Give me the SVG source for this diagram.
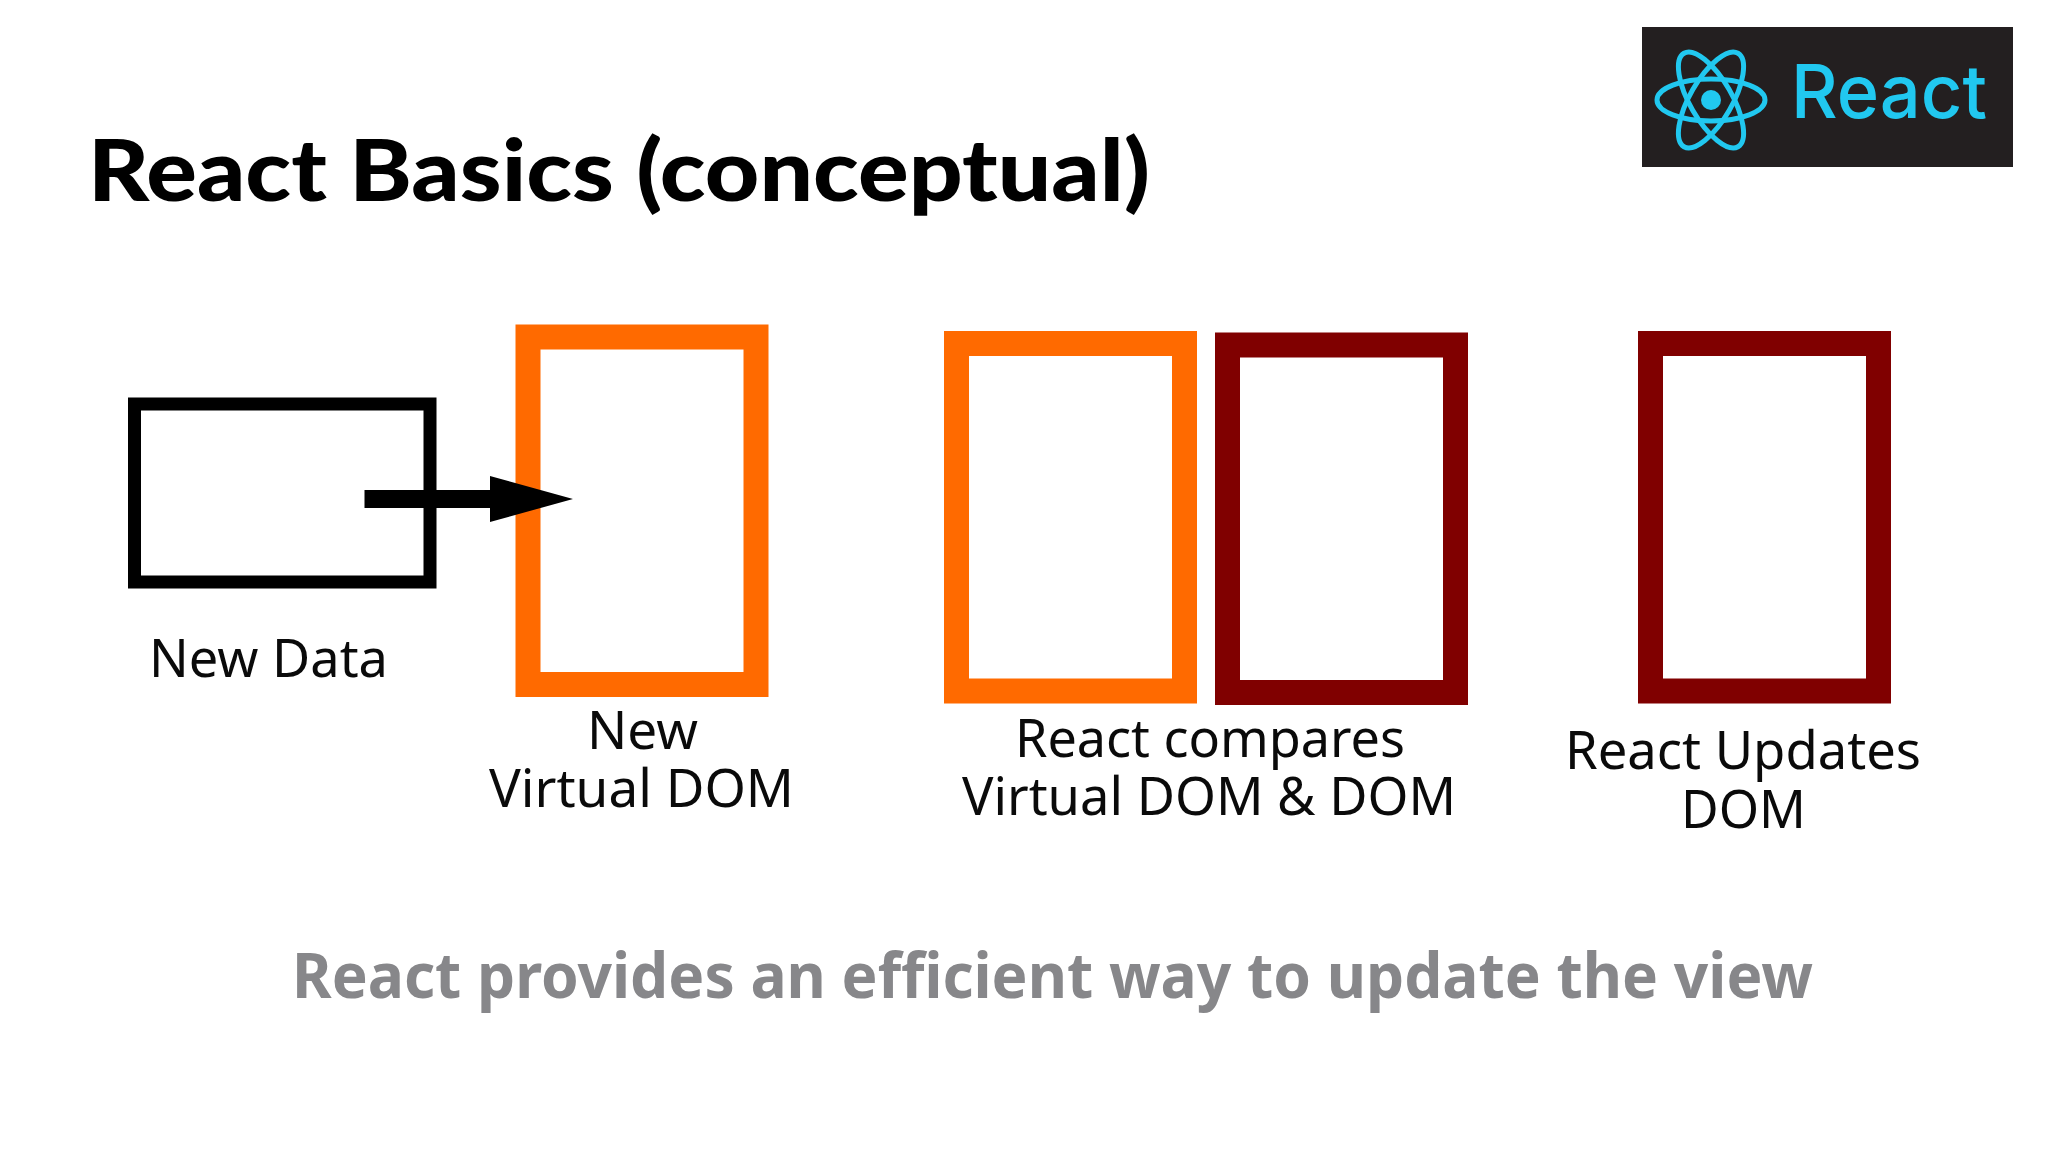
<svg xmlns="http://www.w3.org/2000/svg" width="2048" height="1152" viewBox="0 0 2048 1152">
<style>
.lbl{font-family:"Noto Sans","Open Sans",sans-serif;font-size:52px;fill:#0a0a0a}
.orange{fill:none;stroke:#ff6a00}
.dark{fill:none;stroke:#800000}
.orb{fill:none;stroke:#21c8f0;stroke-width:5}
</style>
<rect width="2048" height="1152" fill="#fff"/>
<text id="title" x="88" y="201" font-family="Lato,sans-serif" font-weight="900" font-size="86" fill="#000" textLength="1062" lengthAdjust="spacingAndGlyphs">React Basics (conceptual)</text>
<g id="logo">
<rect x="1642" y="27" width="371" height="140" fill="#231f20"/>
<g transform="translate(1711 100)">
<ellipse class="orb" rx="54" ry="21"/>
<ellipse class="orb" rx="54" ry="21" transform="rotate(60)"/>
<ellipse class="orb" rx="54" ry="21" transform="rotate(120)"/>
<circle r="10" fill="#21c8f0"/>
</g>
<text x="1791" y="118" font-family="Inter,sans-serif" font-weight="500" font-size="74" fill="#21c8f0" textLength="196" lengthAdjust="spacingAndGlyphs">React</text>
</g>
<g id="new-data">
<rect x="134.500" y="404" width="295.500" height="178" fill="none" stroke="#000" stroke-width="13"/>
<text class="lbl" x="149" y="677" textLength="239" lengthAdjust="spacingAndGlyphs">New Data</text>
</g>
<g id="new-virtual-dom">
<rect class="orange" x="528" y="337" width="228" height="347.500" stroke-width="25"/>
<text class="lbl" x="587" y="749" textLength="111" lengthAdjust="spacingAndGlyphs">New</text>
<text class="lbl" x="489" y="807" textLength="305" lengthAdjust="spacingAndGlyphs">Virtual DOM</text>
</g>
<g id="compare-virtual">
<rect class="orange" x="956.500" y="343.500" width="228" height="347.500" stroke-width="25"/>
</g>
<g id="compare-dom">
<rect class="dark" x="1227.500" y="345" width="228" height="347.500" stroke-width="25"/>
<text class="lbl" x="1015" y="757" textLength="390" lengthAdjust="spacingAndGlyphs">React compares</text>
<text class="lbl" x="962" y="815" textLength="494" lengthAdjust="spacingAndGlyphs">Virtual DOM &amp; DOM</text>
</g>
<g id="updated-dom">
<rect class="dark" x="1650.500" y="343.500" width="228" height="347.500" stroke-width="25"/>
<text class="lbl" x="1565" y="769" textLength="356" lengthAdjust="spacingAndGlyphs">React Updates</text>
<text class="lbl" x="1681" y="828" textLength="125" lengthAdjust="spacingAndGlyphs">DOM</text>
</g>
<g id="connectors">
<path d="M364.500 490H490V476L573 499L490 522V508H364.500Z" fill="#000"/>
</g>
<text id="caption" x="292" y="998" font-family="'Noto Sans',sans-serif" font-weight="700" font-size="62" fill="#87878a" textLength="1521" lengthAdjust="spacingAndGlyphs">React provides an efficient way to update the view</text>
</svg>
